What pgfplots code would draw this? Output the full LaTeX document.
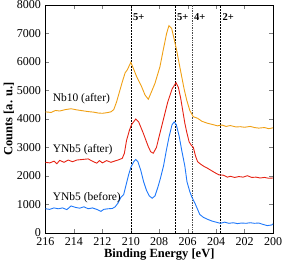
\documentclass[border=0pt]{standalone}
\usepackage{fontspec}
\setmainfont{Liberation Serif}
\usepackage{pgfplots}
\pgfplotsset{compat=1.18}
\definecolor{corange}{RGB}{240,160,20}
\definecolor{cred}{RGB}{230,35,20}
\definecolor{cblue}{RGB}{30,120,250}
\begin{document}
\begin{tikzpicture}
\begin{axis}[name=ax,
  scale only axis, width=227.5pt, height=228pt,
  x dir=reverse, xmin=200, xmax=216, ymin=0, ymax=8000,
  xtick={200,202,...,216}, ytick={0,1000,...,8000},
  tick align=inside, major tick length=4pt,
  xtick pos=both, ytick pos=both,
  yticklabel pos=left, xticklabel pos=bottom,
  scaled y ticks=false,
  /pgf/number format/assume math mode=true,
  /pgf/number format/1000 sep={},
  tick label style={font=\fontsize{12}{14}\selectfont},
  xticklabel style={yshift=-1pt},
  yticklabel style={xshift=-1pt},
  xlabel={\textbf{Binding Energy [eV]}},
  ylabel={\textbf{Counts [a. u.]}},
  label style={font=\fontsize{12.5}{14}\selectfont},
  xlabel style={yshift=4pt},
  ylabel style={yshift=-4pt},
  clip=false,
  every axis plot/.append style={line width=0.9pt},
]
% vertical reference lines
\addplot[black, line width=0.5pt, densely dotted] coordinates {(210.0,0) (210.0,8000)};
\addplot[black, line width=0.5pt, densely dotted] coordinates {(206.9,0) (206.9,8000)};
\addplot[black!70, line width=0.7pt, densely dotted] coordinates {(205.7,0) (205.7,8000)};
\addplot[black, line width=0.5pt, densely dotted] coordinates {(203.7,0) (203.7,8000)};
% Nb10 (after)
\addplot[corange] coordinates {
(216.0,4250) (215.6,4230) (215.3,4300) (215.0,4280) (214.6,4330) (214.2,4360)
(213.8,4320) (213.4,4290) (213.0,4260) (212.6,4240) (212.3,4210) (212.0,4200)
(211.7,4220) (211.4,4250) (211.2,4330) (211.0,4600) (210.8,4950) (210.6,5300)
(210.4,5620) (210.25,5720) (210.0,5990) (209.8,5750) (209.59,5485) (209.24,5134)
(209.0,4842) (208.77,4692) (208.55,4950) (208.3,5253) (207.95,5836) (207.72,6421)
(207.48,7007) (207.32,7274) (207.13,7183) (206.95,6800) (206.78,6421) (206.6,5950)
(206.42,5485) (206.25,5050) (206.07,4667) (205.85,4300) (205.61,4081) (205.3,4025)
(205.0,3920) (204.6,3850) (204.2,3800) (203.9,3760) (203.6,3790) (203.3,3740)
(203.0,3770) (202.6,3720) (202.3,3730) (202.0,3710) (201.6,3740) (201.3,3700)
(201.0,3680) (200.6,3700) (200.3,3660) (200.0,3690)
};
% YNb5 (after)
\addplot[cred] coordinates {
(216.0,2480) (215.7,2460) (215.4,2520) (215.2,2430) (215.0,2550) (214.7,2480)
(214.4,2560) (214.1,2500) (213.8,2560) (213.4,2580) (213.0,2600) (212.7,2520)
(212.4,2450) (212.2,2540) (212.0,2460) (211.7,2540) (211.4,2480) (211.1,2530)
(210.9,2560) (210.6,2620) (210.45,2800) (210.3,3250) (210.1,3600) (209.95,3800)
(209.65,4000) (209.45,3900) (209.12,3498) (208.77,3030) (208.6,2850) (208.42,2800)
(208.2,3000) (207.95,3500) (207.7,4000) (207.4,4600) (207.1,5050) (206.82,5275)
(206.65,5100) (206.5,4750) (206.35,4300) (206.2,3850) (206.05,3500) (205.9,3200)
(205.75,3080) (205.6,3000) (205.45,2700) (205.3,2500) (205.1,2420) (204.9,2350)
(204.6,2270) (204.4,2210) (204.1,2120) (203.8,2040) (203.5,2030) (203.2,1960)
(203.0,1990) (202.7,1950) (202.4,1980) (202.1,1960) (201.8,2010) (201.5,1950)
(201.2,1960) (200.9,1930) (200.6,1950) (200.3,1920) (200.0,1930)
};
% YNb5 (before)
\addplot[cblue] coordinates {
(216.0,850) (215.7,830) (215.4,880) (215.1,850) (214.8,880) (214.5,820)
(214.2,950) (213.9,900) (213.6,870) (213.3,920) (213.0,850) (212.7,880)
(212.4,830) (212.1,760) (211.9,830) (211.6,850) (211.3,860) (211.1,920)
(210.9,1050) (210.7,1250) (210.5,1350) (210.3,1750) (210.15,2050) (210.0,2300)
(209.8,2500) (209.65,2580) (209.5,2500) (209.3,2200) (209.1,1800) (208.9,1500)
(208.7,1300) (208.5,1220) (208.3,1300) (208.1,1600) (207.9,1950) (207.7,2350)
(207.5,2900) (207.3,3400) (207.1,3800) (206.95,3900) (206.8,3800) (206.6,3400)
(206.42,2900) (206.2,2350) (206.05,1800) (205.85,1450) (205.7,1250) (205.45,1000)
(205.15,650) (204.9,550) (204.6,480) (204.3,420) (204.0,380) (203.7,340)
(203.4,380) (203.1,340) (202.8,360) (202.5,330) (202.2,350) (201.9,340)
(201.6,360) (201.3,340) (201.0,350) (200.7,300) (200.4,260) (200.1,280) (200.0,320)
};
\node[anchor=west, font=\fontsize{11.5}{13}\selectfont, inner sep=0pt] at (axis cs:215.5,4700) {Nb10 (after)};
\node[anchor=west, font=\fontsize{11.5}{13}\selectfont, inner sep=0pt] at (axis cs:215.5,2910) {YNb5 (after)};
\node[anchor=west, font=\fontsize{11.5}{13}\selectfont, inner sep=0pt] at (axis cs:215.5,1240) {YNb5 (before)};
\node[anchor=west, font=\bfseries\fontsize{10.5}{12}\selectfont, inner sep=0pt, xshift=2pt] at (axis cs:210.0,7580) {5+};
\node[anchor=west, font=\bfseries\fontsize{10.5}{12}\selectfont, inner sep=0pt, xshift=2pt] at (axis cs:206.9,7580) {5+};
\node[anchor=west, font=\bfseries\fontsize{10.5}{12}\selectfont, inner sep=0pt, xshift=2pt] at (axis cs:205.7,7580) {4+};
\node[anchor=west, font=\bfseries\fontsize{10.5}{12}\selectfont, inner sep=0pt, xshift=2pt] at (axis cs:203.7,7580) {2+};
\end{axis}
\pgfresetboundingbox
\path ([xshift=-45.5pt,yshift=-36pt]ax.south west) rectangle ([xshift=10pt,yshift=5pt]ax.north east);
\end{tikzpicture}
\end{document}
